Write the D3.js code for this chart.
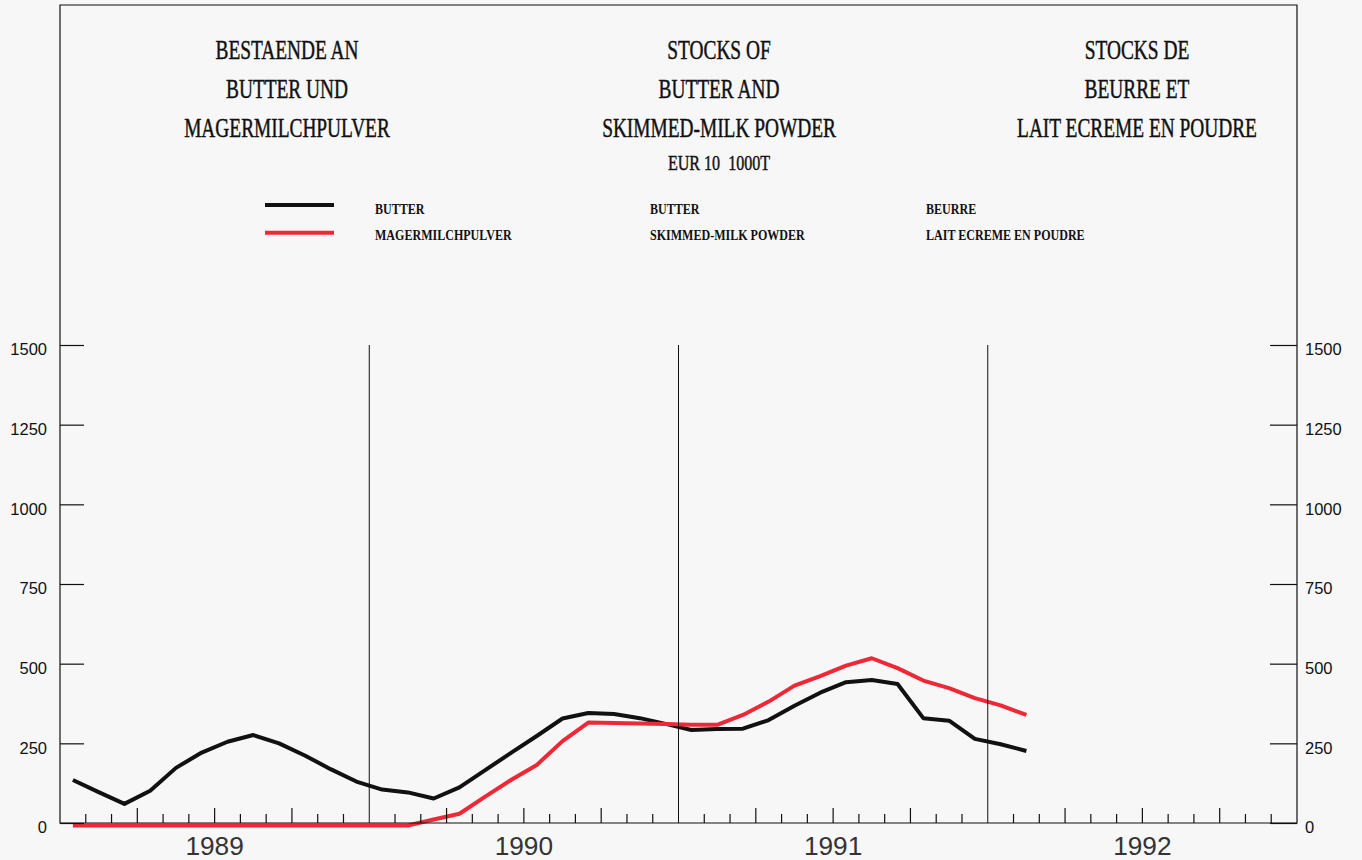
<!DOCTYPE html>
<html>
<head>
<meta charset="utf-8">
<script src="https://cdn.jsdelivr.net/npm/d3@7"></script>
<style>
  html, body { margin: 0; padding: 0; background: #f7f7f7; }
  svg { display: block; }
</style>
</head>
<body>
<svg id="chart" width="1362" height="860"></svg>
<script>
// ---------- DATA ----------
const startYear = 1989;
const months = d3.range(38).map(i => d3.timeFormat("%Y-%m")(new Date(startYear, i, 1)));
const butter = [135, 97, 60, 101, 173, 221, 255, 276, 250, 212, 169, 130,
                105, 96, 77, 112, 166, 220, 273, 328, 345, 342, 329, 311,
                292, 295, 296, 323, 368, 409, 442, 449, 436, 329, 321, 264,
                247, 226];
const skimmedMilk = [-8, -8, -8, -8, -8, -8, -8, -8, -8, -8, -8, -8,
                     -8, -8, 11, 29, 83, 135, 182, 257, 315, 314, 312, 311,
                     308, 308, 339, 381, 431, 461, 494, 517, 486, 447, 423, 392,
                     369, 339];
const yTicks = [0, 250, 500, 750, 1000, 1250, 1500];
const yearLabels = ["1989", "1990", "1991", "1992"];
const titleDE = ["BESTAENDE AN", "BUTTER UND", "MAGERMILCHPULVER"];
const titleEN = ["STOCKS OF", "BUTTER AND", "SKIMMED-MILK POWDER"];
const titleFR = ["STOCKS DE", "BEURRE ET", "LAIT ECREME EN POUDRE"];
const unitLabel = "EUR 10  1000T";
const legendDE = ["BUTTER", "MAGERMILCHPULVER"];
const legendEN = ["BUTTER", "SKIMMED-MILK POWDER"];
const legendFR = ["BEURRE", "LAIT ECREME EN POUDRE"];

// ---------- LAYOUT ----------
const svg = d3.select("#chart");
const L = 60, R = 1297, T = 5, B = 823, Ytop = 345;
const nMonths = yearLabels.length * 12;
const x = d3.scaleLinear().domain([0, nMonths]).range([L, R]);
const y = d3.scaleLinear().domain([0, 1500]).range([B, Ytop]);
const blackC = "#111", redC = "#ee2836";

function condense(sel, k) {
  sel.each(function () {
    const len = this.getComputedTextLength();
    d3.select(this).attr("textLength", len * k).attr("lengthAdjust", "spacingAndGlyphs");
  });
}

// Titles
const titleCols = [
  { lines: titleDE, cx: 287 },
  { lines: titleEN, cx: 719 },
  { lines: titleFR, cx: 1137 }
];
const tg = svg.append("g").attr("font-family", "'Liberation Serif', 'DejaVu Serif', serif")
  .attr("fill", "#111").attr("stroke", "#111").attr("stroke-width", 0.45);
titleCols.forEach(col => {
  tg.selectAll(null).data(col.lines).enter().append("text")
    .attr("x", col.cx).attr("y", (d, i) => 59 + i * 39.2)
    .attr("text-anchor", "middle").attr("font-size", 26.5)
    .text(d => d).call(condense, 0.73);
});
tg.append("text").attr("x", 719).attr("y", 170).attr("text-anchor", "middle")
  .attr("font-size", 22).attr("xml:space", "preserve").style("white-space", "pre")
  .text(unitLabel).call(condense, 0.73);

// Legend
const lg = svg.append("g").attr("font-family", "'Liberation Serif', 'DejaVu Serif', serif")
  .attr("font-weight", "bold").attr("fill", "#111");
[blackC, redC].forEach((c, i) => {
  lg.append("line").attr("x1", 265).attr("x2", 334)
    .attr("y1", 205 + i * 27.7).attr("y2", 205 + i * 27.7)
    .attr("stroke", c).attr("stroke-width", 4);
});
[[legendDE, 375], [legendEN, 650], [legendFR, 926]].forEach(([labels, lx]) => {
  lg.selectAll(null).data(labels).enter().append("text")
    .attr("x", lx).attr("y", (d, i) => 213.5 + i * 26)
    .attr("font-size", 14.5).text(d => d).call(condense, 0.83);
});

// Series lines
const line = d3.line().x((d, i) => x(i + 0.5)).y(d => y(d));
svg.append("path").datum(butter).attr("d", line)
  .attr("fill", "none").attr("stroke", blackC).attr("stroke-width", 4)
  .attr("stroke-linejoin", "round");
svg.append("path").datum(skimmedMilk).attr("d", line)
  .attr("fill", "none").attr("stroke", redC).attr("stroke-width", 4)
  .attr("stroke-linejoin", "round");

// Year dividers
svg.append("g").selectAll("line").data(d3.range(1, yearLabels.length)).enter().append("line")
  .attr("x1", d => x(d * 12)).attr("x2", d => x(d * 12))
  .attr("y1", y(1500)).attr("y2", B).attr("stroke", "#111").attr("stroke-width", 1);

// Month ticks
svg.append("g").selectAll("line")
  .data(d3.range(1, nMonths).filter(m => m % 12 !== 0)).enter().append("line")
  .attr("x1", d => x(d)).attr("x2", d => x(d))
  .attr("y1", B).attr("y2", d => B - (d % 3 === 0 ? 15 : 9))
  .attr("stroke", "#111").attr("stroke-width", 1.2);

// Year labels
svg.append("g").selectAll("text").data(yearLabels).enter().append("text")
  .attr("x", (d, i) => x(i * 12 + 6)).attr("y", 855)
  .attr("text-anchor", "middle").attr("font-family", "'Liberation Sans', Arial, sans-serif")
  .attr("font-size", 25).attr("fill", "#333").text(d => d).call(condense, 1.05);

// Y axes
const axL = d3.axisLeft(y).tickValues(yTicks).tickSize(-24).tickPadding(13).tickFormat(d3.format("d"));
const axR = d3.axisRight(y).tickValues(yTicks).tickSize(-27).tickPadding(8).tickFormat(d3.format("d"));
const gl = svg.append("g").attr("transform", `translate(${L},0)`).call(axL);
const gr = svg.append("g").attr("transform", `translate(${R},0)`).call(axR);
[gl, gr].forEach(g => {
  g.select(".domain").remove();
  g.selectAll(".tick line").attr("stroke", "#111").attr("stroke-width", 1.2);
  g.selectAll(".tick text").attr("font-family", "'Liberation Sans', Arial, sans-serif")
    .attr("font-size", 16.5).attr("fill", "#111").attr("dy", "0.6em");
});

// Frame
svg.append("path")
  .attr("d", `M${L},${B}V${T}H${R}V${B}H${L}Z`)
  .attr("fill", "none").attr("stroke", "#111").attr("stroke-width", 1.2);
</script>
</body>
</html>
